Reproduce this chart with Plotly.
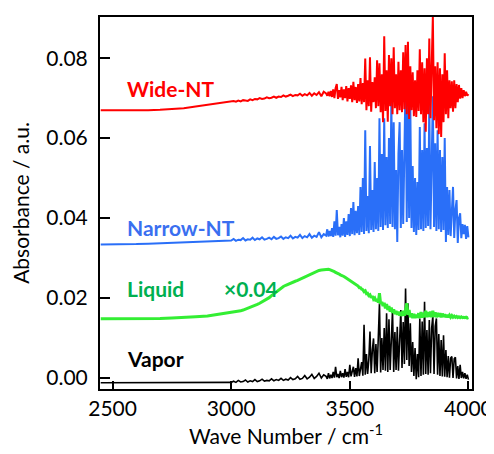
import plotly.graph_objects as go

# wave number grids (cm-1): coarse for the flat part, finer where the spectra get noisy
wn_low = list(range(2450, 3000, 50))
wn_mid = list(range(3000, 3400, 10))
wn_high = list(range(3400, 4001, 5))

wide_low = [0.0670, 0.0670, 0.0669, 0.0670, 0.0670, 0.0671, 0.0673, 0.0675, 0.0679, 0.0683, 0.0687]
wide_mid = [0.0691, 0.0693, 0.0691, 0.0694, 0.0692, 0.0695, 0.0694, 0.0693, 0.0697, 0.0695,
            0.0698, 0.0697, 0.0700, 0.0698, 0.0699, 0.0702, 0.0700, 0.0701, 0.0704, 0.0701,
            0.0704, 0.0703, 0.0707, 0.0704, 0.0706, 0.0709, 0.0705, 0.0708, 0.0707, 0.0711,
            0.0706, 0.0710, 0.0707, 0.0713, 0.0706, 0.0712, 0.0708, 0.0715, 0.0705, 0.0716]
wide_high = [0.0712, 0.0706, 0.0716, 0.0705, 0.0718, 0.0703, 0.0722, 0.0700, 0.0725, 0.0735,
             0.0698, 0.0720, 0.0702, 0.0728, 0.0695, 0.0722, 0.0700, 0.0730, 0.0692, 0.0725,
             0.0698, 0.0732, 0.0690, 0.0741, 0.0695, 0.0728, 0.0688, 0.0735, 0.0692, 0.0750,
             0.0685, 0.0738, 0.0690, 0.0799, 0.0670, 0.0745, 0.0680, 0.0802, 0.0666, 0.0740,
             0.0690, 0.0752, 0.0675, 0.0795, 0.0680, 0.0787, 0.0665, 0.0760, 0.0640, 0.0855,
             0.0668, 0.0770, 0.0641, 0.0808, 0.0680, 0.0800, 0.0660, 0.0827, 0.0675, 0.0760,
             0.0660, 0.0791, 0.0670, 0.0770, 0.0665, 0.0815, 0.0672, 0.0833, 0.0660, 0.0841,
             0.0648, 0.0780, 0.0670, 0.0765, 0.0655, 0.0745, 0.0653, 0.0770, 0.0668, 0.0822,
             0.0660, 0.0790, 0.0640, 0.0775, 0.0616, 0.0800, 0.0660, 0.0849, 0.0650, 0.0795,
             0.0905, 0.0645, 0.0780, 0.0625, 0.0790, 0.0610, 0.0775, 0.0603, 0.0760, 0.0640,
             0.0812, 0.0660, 0.0770, 0.0650, 0.0745, 0.0675, 0.0742, 0.0666, 0.0745, 0.0675,
             0.0735, 0.0690, 0.0733, 0.0699, 0.0725, 0.0700, 0.0720, 0.0705, 0.0716, 0.0706,
             0.0710]

narrow_low = [0.0334, 0.0334, 0.0334, 0.0335, 0.0336, 0.0337, 0.0338, 0.0339, 0.0340, 0.0341, 0.0342]
narrow_mid = [0.0344, 0.0348, 0.0343, 0.0346, 0.0345, 0.0350, 0.0344, 0.0347, 0.0346, 0.0351,
              0.0345, 0.0349, 0.0347, 0.0352, 0.0346, 0.0348, 0.0351, 0.0347, 0.0353, 0.0348,
              0.0350, 0.0354, 0.0348, 0.0352, 0.0350, 0.0356, 0.0349, 0.0353, 0.0351, 0.0358,
              0.0350, 0.0355, 0.0352, 0.0360, 0.0351, 0.0356, 0.0353, 0.0365, 0.0352, 0.0360]
narrow_high = [0.0356, 0.0372, 0.0354, 0.0368, 0.0355, 0.0375, 0.0353, 0.0392, 0.0356, 0.0420,
               0.0357, 0.0378, 0.0352, 0.0385, 0.0356, 0.0400, 0.0353, 0.0392, 0.0358, 0.0410,
               0.0355, 0.0425, 0.0360, 0.0440, 0.0357, 0.0418, 0.0362, 0.0430, 0.0358, 0.0478,
               0.0365, 0.0500, 0.0360, 0.0620, 0.0368, 0.0455, 0.0362, 0.0580, 0.0370, 0.0470,
               0.0365, 0.0540, 0.0372, 0.0500, 0.0368, 0.0650, 0.0378, 0.0560, 0.0370, 0.0650,
               0.0382, 0.0553, 0.0375, 0.0600, 0.0385, 0.0697, 0.0378, 0.0640, 0.0372, 0.0520,
               0.0340, 0.0560, 0.0640, 0.0375, 0.0570, 0.0385, 0.0600, 0.0745, 0.0390, 0.0720,
               0.0400, 0.0680, 0.0375, 0.0530, 0.0365, 0.0500, 0.0358, 0.0490, 0.0370, 0.0628,
               0.0372, 0.0570, 0.0368, 0.0637, 0.0375, 0.0575, 0.0380, 0.0690, 0.0372, 0.0600,
               0.0705, 0.0378, 0.0587, 0.0368, 0.0620, 0.0372, 0.0570, 0.0365, 0.0553, 0.0370,
               0.0600, 0.0340, 0.0478, 0.0358, 0.0470, 0.0355, 0.0440, 0.0478, 0.0350, 0.0420,
               0.0445, 0.0338, 0.0400, 0.0412, 0.0350, 0.0385, 0.0360, 0.0383, 0.0348, 0.0380,
               0.0352]

liquid_low = [0.0148, 0.0148, 0.0148, 0.0148, 0.0148, 0.0149, 0.0150, 0.0151, 0.0153, 0.0155, 0.0159]
liquid_mid = [0.0163, 0.0164, 0.0165, 0.0167, 0.0168, 0.0170, 0.0172, 0.0174, 0.0177, 0.0179,
              0.0181, 0.0184, 0.0187, 0.0190, 0.0193, 0.0197, 0.0201, 0.0206, 0.0211, 0.0216,
              0.0221, 0.0225, 0.0229, 0.0232, 0.0235, 0.0237, 0.0240, 0.0242, 0.0244, 0.0247,
              0.0249, 0.0252, 0.0256, 0.0259, 0.0262, 0.0264, 0.0267, 0.0269, 0.0270, 0.0271]
liquid_high = [0.0272, 0.0272, 0.0272, 0.0271, 0.0270, 0.0269, 0.0267, 0.0266, 0.0264, 0.0263,
               0.0261, 0.0260, 0.0258, 0.0257, 0.0255, 0.0254, 0.0252, 0.0250, 0.0248, 0.0247,
               0.0244, 0.0243, 0.0240, 0.0239, 0.0236, 0.0235, 0.0231, 0.0230, 0.0226, 0.0226,
               0.0222, 0.0221, 0.0216, 0.0218, 0.0211, 0.0212, 0.0206, 0.0208, 0.0201, 0.0205,
               0.0197, 0.0200, 0.0192, 0.0198, 0.0189, 0.0212, 0.0185, 0.0190, 0.0180, 0.0188,
               0.0174, 0.0185, 0.0170, 0.0180, 0.0166, 0.0176, 0.0163, 0.0172, 0.0160, 0.0168,
               0.0158, 0.0166, 0.0156, 0.0165, 0.0155, 0.0168, 0.0156, 0.0175, 0.0187, 0.0158,
               0.0170, 0.0152, 0.0162, 0.0150, 0.0160, 0.0150, 0.0158, 0.0151, 0.0162, 0.0150,
               0.0165, 0.0151, 0.0163, 0.0152, 0.0168, 0.0152, 0.0165, 0.0153, 0.0166, 0.0152,
               0.0168, 0.0153, 0.0164, 0.0152, 0.0163, 0.0153, 0.0162, 0.0152, 0.0161, 0.0153,
               0.0159, 0.0152, 0.0158, 0.0152, 0.0157, 0.0152, 0.0156, 0.0152, 0.0155, 0.0152,
               0.0154, 0.0151, 0.0153, 0.0151, 0.0153, 0.0151, 0.0152, 0.0151, 0.0152, 0.0150,
               0.0151]

vapor_low = [-0.0012, -0.0012, -0.0012, -0.0012, -0.0012, -0.0012, -0.0012, -0.0011, -0.0012, -0.0012, -0.0011]
vapor_mid = [-0.0011, -0.0008, -0.0011, -0.0006, -0.0010, -0.0009, -0.0005, -0.0010, -0.0007, -0.0009,
             -0.0004, -0.0009, -0.0007, -0.0003, -0.0008, -0.0006, -0.0007, -0.0002, -0.0007, -0.0004,
             -0.0006, -0.0001, -0.0006, -0.0003, -0.0005, 0.0001, -0.0004, -0.0002, 0.0004, -0.0003,
             -0.0001, 0.0006, -0.0002, 0.0002, 0.0009, -0.0001, 0.0004, 0.0012, 0.0000, 0.0008]
vapor_high = [0.0004, -0.0002, 0.0012, -0.0001, 0.0008, 0.0000, 0.0015, 0.0001, 0.0028, 0.0002,
              0.0010, 0.0000, 0.0018, 0.0002, 0.0012, 0.0001, 0.0022, 0.0003, 0.0015, 0.0002,
              0.0033, 0.0004, 0.0020, 0.0028, 0.0003, 0.0025, 0.0004, 0.0049, 0.0005, 0.0030,
              0.0040, 0.0006, 0.0133, 0.0008, 0.0060, 0.0010, 0.0045, 0.0116, 0.0012, 0.0070,
              0.0099, 0.0012, 0.0085, 0.0015, 0.0110, 0.0187, 0.0014, 0.0100, 0.0020, 0.0125,
              0.0018, 0.0162, 0.0015, 0.0147, 0.0020, 0.0120, 0.0170, 0.0015, 0.0115, 0.0020,
              0.0128, 0.0018, 0.0110, 0.0170, 0.0025, 0.0140, 0.0035, 0.0224, 0.0045, 0.0187,
              0.0030, 0.0137, 0.0015, 0.0090, 0.0005, 0.0075, -0.0003, 0.0060, 0.0002, 0.0149,
              0.0005, 0.0141, 0.0008, 0.0191, 0.0010, 0.0120, 0.0008, 0.0145, 0.0012, 0.0125,
              0.0155, 0.0010, 0.0130, 0.0149, 0.0008, 0.0110, 0.0005, 0.0095, 0.0004, 0.0107,
              0.0003, 0.0070, 0.0002, 0.0055, 0.0001, 0.0050, 0.0054, 0.0000, 0.0048, 0.0052,
              -0.0001, 0.0030, -0.0002, 0.0033, 0.0000, 0.0015, -0.0001, 0.0012, -0.0002, 0.0008,
              -0.0004]

FONT = "Lato"
wn_all = wn_low + wn_mid + wn_high

series = [
    (vapor_low + vapor_mid + vapor_high, "black", 1.6),
    (liquid_low + liquid_mid + liquid_high, "#33ee33", 3),
    (narrow_low + narrow_mid + narrow_high, "#2a6ff8", 2),
    (wide_low + wide_mid + wide_high, "#ff0000", 2),
]

fig = go.Figure()
for ys, color, w in series:
    fig.add_trace(go.Scatter(x=wn_all, y=ys, mode="lines",
                             line=dict(color=color, width=w), showlegend=False))

labels = [
    ("Wide-NT", 2553, 0.0723, "#ff0000"),
    ("Narrow-NT", 2553, 0.0376, "#3a6ff0"),
    ("Liquid", 2553, 0.0225, "#00b050"),
    ("\u00d70.04", 2962, 0.0225, "#00b050"),
    ("Vapor", 2553, 0.0050, "black"),
]
for text, x, y, color in labels:
    fig.add_annotation(x=x, y=y, text="<b>%s</b>" % text, showarrow=False,
                       xanchor="left", yanchor="middle",
                       font=dict(family=FONT, size=21, color=color))

# the page body has an 8px margin, so the figure is 8px smaller than the window
fig.update_layout(
    width=486, height=446,
    margin=dict(l=92, r=22, t=9, b=65),
    plot_bgcolor="white", paper_bgcolor="white",
    font=dict(family=FONT, color="black"),
)
fig.update_xaxes(
    range=[2447, 4015], tickvals=[2500, 3000, 3500, 4000], automargin=False,
    ticks="inside", ticklen=8, tickwidth=2, tickcolor="black",
    showline=True, linewidth=2, linecolor="black", mirror=True,
    showgrid=False, zeroline=False, tickfont=dict(size=21),
    title=dict(text="Wave Number / cm<sup>-1</sup>", font=dict(size=21), standoff=10),
)
fig.update_yaxes(
    range=[-0.00275, 0.0903], tickvals=[0, 0.02, 0.04, 0.06, 0.08], tickformat=".2f",
    automargin=False,
    ticks="inside", ticklen=10, tickwidth=2, tickcolor="black",
    showline=True, linewidth=2, linecolor="black", mirror=True,
    showgrid=False, zeroline=False, tickfont=dict(size=21), ticklabelstandoff=6,
    title=dict(text="Absorbance / a.u.", font=dict(size=21), standoff=12),
)

fig.write_html("out.html")
